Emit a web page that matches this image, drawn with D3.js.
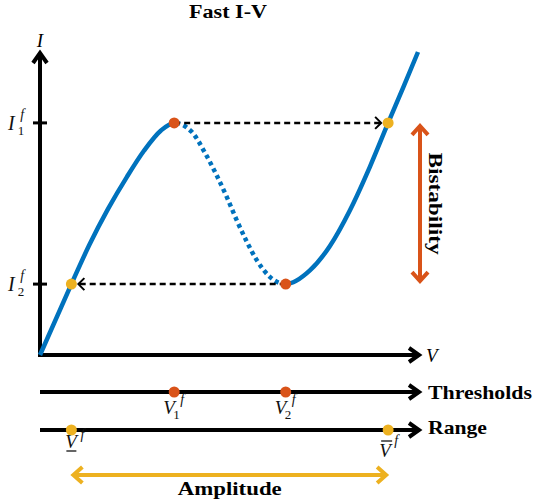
<!DOCTYPE html>
<html>
<head>
<meta charset="utf-8">
<script src="https://cdn.jsdelivr.net/npm/d3@7"></script>
<style>
  html, body { margin: 0; padding: 0; background: #fff; }
  svg { display: block; }
</style>
</head>
<body>
<svg id="chart" width="534" height="504"></svg>
<script>
// Fast I-V characteristic: sampled points of the N-shaped curve (normalised units)
const ivV = [0, 0.083, 0.130, 0.180, 0.230, 0.275, 0.320, 0.355,
             0.401, 0.437, 0.467, 0.494, 0.520, 0.547, 0.573, 0.608, 0.650,
             0.714, 0.767, 0.820, 0.873, 0.921, 0.961, 1.000];
const ivI = [0, 0.234, 0.362, 0.482, 0.588, 0.674, 0.741, 0.766,
             0.737, 0.666, 0.594, 0.522, 0.446, 0.374, 0.314, 0.258, 0.234,
             0.279, 0.360, 0.478, 0.622, 0.766, 0.883, 1.000];

// Fold points (thresholds) and the current levels at the folds
const thresholdV = [0.355, 0.650];       // V1^f, V2^f
const currentLevels = [0.766, 0.234];    // I1^f, I2^f
// Range of the fast branch: V lower and V upper
const rangeV = [0.083, 0.921];

const title = "Fast I-V";
const sideLabels = ["Thresholds", "Range"];
const spanLabels = ["Bistability", "Amplitude"];

const BLUE = "#0072BD", ORANGE = "#D95319", YELLOW = "#EDB120";
const SERIF = "'Liberation Serif', 'Times New Roman', serif";

const svg = d3.select("#chart");
const x = d3.scaleLinear().domain([0, 1]).range([40, 418]);
const y = d3.scaleLinear().domain([0, 1]).range([355, 52]);

const thresholdsY = 392, rangeY = 430, amplitudeY = 475, bistX = 420;

// chevron arrow head; dir is the unit vector the arrow points along
function head(g, tx, ty, dir, len, half, color, width) {
  const [dx, dy] = dir;
  const px = -dy, py = dx;
  const bx = tx - dx * len, by = ty - dy * len;
  g.append("path")
    .attr("d", `M${bx + px * half},${by + py * half}L${tx},${ty}L${bx - px * half},${by - py * half}`)
    .attr("fill", "none").attr("stroke", color).attr("stroke-width", width)
    .attr("stroke-linejoin", "miter").attr("stroke-linecap", "butt");
}

function segment(g, x1, y1, x2, y2, color, width, dash) {
  const l = g.append("line")
    .attr("x1", x1).attr("y1", y1).attr("x2", x2).attr("y2", y2)
    .attr("stroke", color).attr("stroke-width", width);
  if (dash) l.attr("stroke-dasharray", dash);
  return l;
}

// italic symbol with optional subscript, superscript and bar decorations,
// set as one text element so the scripts sit against the symbol
function mathLabel(g, px, py, o) {
  const t = g.append("g");
  const txt = t.append("text").attr("x", px).attr("y", py)
    .attr("font-family", SERIF).attr("fill", "#111");
  txt.append("tspan").attr("font-style", "italic").attr("font-size", o.size || 19).text(o.base);
  if (o.sub) txt.append("tspan").attr("font-size", 13)
    .attr("dx", o.subDx).attr("dy", 5).text(o.sub);
  if (o.sup) txt.append("tspan").attr("font-style", "italic").attr("font-size", 14)
    .attr("dx", o.supDx).attr("dy", o.supDy).text(o.sup);
  if (o.under) segment(t, px + 1, py + 3, px + 11, py + 3, "#111", 1.3);
  if (o.over) segment(t, px + 2, py - 16, px + 13, py - 16, "#111", 1.3);
}

// title
svg.append("text").attr("x", 228).attr("y", 18).attr("text-anchor", "middle")
  .attr("font-family", SERIF).attr("font-weight", "bold").attr("font-size", 18)
  .attr("textLength", 78).attr("lengthAdjust", "spacingAndGlyphs").text(title);

// axes
const axes = svg.append("g");
segment(axes, x(0), y(0), x(0), y(1) + 1, "#000", 4);
head(axes, x(0), y(1) + 1, [0, -1], 10, 7, "#000", 4);
segment(axes, x(0) - 2, y(0), x(1) + 1, y(0), "#000", 4);
head(axes, x(1) + 1, y(0), [1, 0], 10, 7, "#000", 4);
axes.append("text").attr("x", x(0)).attr("y", 47).attr("text-anchor", "middle")
  .attr("font-family", SERIF).attr("font-style", "italic").attr("font-size", 19).text("I");
axes.append("text").attr("x", 426).attr("y", 362)
  .attr("font-family", SERIF).attr("font-style", "italic").attr("font-size", 19).text("V");

// ticks on the current axis at the fold currents
currentLevels.forEach((c, i) => {
  segment(axes, x(0) - 7, y(c), x(0) + 7, y(c), "#000", 3);
  mathLabel(axes, 8, y(c) + 7, { base: "I", size: 20, sub: String(i + 1), subDx: 3, sup: "f", supDx: -4, supDy: -16 });
});

// I-V curve: solid on the stable branches, dotted on the unstable one
const pts = ivV.map((v, i) => [x(v), y(ivI[i])]);
const line = d3.line().curve(d3.curveMonotoneX);
const defs = svg.append("defs");
defs.append("clipPath").attr("id", "stableClip")
  .selectAll("rect").data([[0, x(thresholdV[0])], [x(thresholdV[1]), 534]]).join("rect")
  .attr("x", d => d[0]).attr("y", 0).attr("width", d => d[1] - d[0]).attr("height", 504);
defs.append("clipPath").attr("id", "unstableClip")
  .append("rect").attr("x", x(thresholdV[0])).attr("y", 0)
  .attr("width", x(thresholdV[1]) - x(thresholdV[0])).attr("height", 504);

svg.append("path").attr("d", line(pts)).attr("fill", "none")
  .attr("stroke", BLUE).attr("stroke-width", 4.5).attr("clip-path", "url(#stableClip)");
svg.append("path").attr("d", line(pts)).attr("fill", "none")
  .attr("stroke", BLUE).attr("stroke-width", 4.5).attr("stroke-dasharray", "4,3.6")
  .attr("clip-path", "url(#unstableClip)");

// jumps between branches
const jumps = svg.append("g");
segment(jumps, x(thresholdV[0]), y(currentLevels[0]), x(rangeV[1]) - 7, y(currentLevels[0]), "#000", 2.5, "6,4");
head(jumps, x(rangeV[1]) - 7, y(currentLevels[0]), [1, 0], 6, 6, "#000", 2);
segment(jumps, x(thresholdV[1]), y(currentLevels[1]), x(rangeV[0]) + 7, y(currentLevels[1]), "#000", 2.5, "6,4");
head(jumps, x(rangeV[0]) + 7, y(currentLevels[1]), [-1, 0], 6, 6, "#000", 2);

// bistability span
const bist = svg.append("g");
segment(bist, bistX, y(currentLevels[0]) + 3, bistX, y(currentLevels[1]) - 3, ORANGE, 4);
head(bist, bistX, y(currentLevels[0]) + 3, [0, -1], 9, 8, ORANGE, 4);
head(bist, bistX, y(currentLevels[1]) - 3, [0, 1], 9, 8, ORANGE, 4);
bist.append("text").attr("transform", `translate(429,${(y(currentLevels[0]) + y(currentLevels[1])) / 2}) rotate(90)`)
  .attr("text-anchor", "middle").attr("font-family", SERIF).attr("font-weight", "bold")
  .attr("font-size", 18).attr("textLength", 102).attr("lengthAdjust", "spacingAndGlyphs")
  .text(spanLabels[0]);

// markers on the curve
svg.selectAll("circle.fold").data(thresholdV).join("circle").attr("class", "fold")
  .attr("cx", d => x(d)).attr("cy", (d, i) => y(currentLevels[i])).attr("r", 5.5).attr("fill", ORANGE);
svg.selectAll("circle.land").data(rangeV).join("circle").attr("class", "land")
  .attr("cx", d => x(d)).attr("cy", (d, i) => y(currentLevels[1 - i])).attr("r", 5.5).attr("fill", YELLOW);

// thresholds line
const th = svg.append("g");
segment(th, x(0), thresholdsY, x(1) + 1, thresholdsY, "#000", 4);
head(th, x(1) + 1, thresholdsY, [1, 0], 10, 7, "#000", 4);
th.selectAll("circle").data(thresholdV).join("circle")
  .attr("cx", d => x(d)).attr("cy", thresholdsY).attr("r", 5.5).attr("fill", ORANGE);
thresholdV.forEach((v, i) => {
  mathLabel(th, x(v) - 11, 414, { base: "V", sub: String(i + 1), subDx: -1.5, sup: "f", supDx: 0.5, supDy: -15 });
});
th.append("text").attr("x", 428).attr("y", 399)
  .attr("font-family", SERIF).attr("font-weight", "bold").attr("font-size", 19)
  .attr("textLength", 104).attr("lengthAdjust", "spacingAndGlyphs").text(sideLabels[0]);

// range line
const rg = svg.append("g");
segment(rg, x(0), rangeY, x(1) + 1, rangeY, "#000", 4);
head(rg, x(1) + 1, rangeY, [1, 0], 10, 7, "#000", 4);
rg.selectAll("circle").data(rangeV).join("circle")
  .attr("cx", d => x(d)).attr("cy", rangeY).attr("r", 5.5).attr("fill", YELLOW);
mathLabel(rg, x(rangeV[0]) - 6, 448, { base: "V", sup: "f", supDx: 3.5, supDy: -9, under: true });
mathLabel(rg, x(rangeV[1]) - 9, 457, { base: "V", sup: "f", supDx: 3.5, supDy: -12, over: true });
rg.append("text").attr("x", 428).attr("y", 434)
  .attr("font-family", SERIF).attr("font-weight", "bold").attr("font-size", 19)
  .attr("textLength", 59).attr("lengthAdjust", "spacingAndGlyphs").text(sideLabels[1]);

// amplitude span
const amp = svg.append("g");
segment(amp, x(rangeV[0]) + 2, amplitudeY, x(rangeV[1]) - 2, amplitudeY, YELLOW, 4);
head(amp, x(rangeV[0]) + 2, amplitudeY, [-1, 0], 9, 8, YELLOW, 4);
head(amp, x(rangeV[1]) - 2, amplitudeY, [1, 0], 9, 8, YELLOW, 4);
amp.append("text").attr("x", (x(rangeV[0]) + x(rangeV[1])) / 2).attr("y", 495)
  .attr("text-anchor", "middle").attr("font-family", SERIF).attr("font-weight", "bold")
  .attr("font-size", 19).attr("textLength", 104).attr("lengthAdjust", "spacingAndGlyphs")
  .text(spanLabels[1]);
</script>
</body>
</html>
